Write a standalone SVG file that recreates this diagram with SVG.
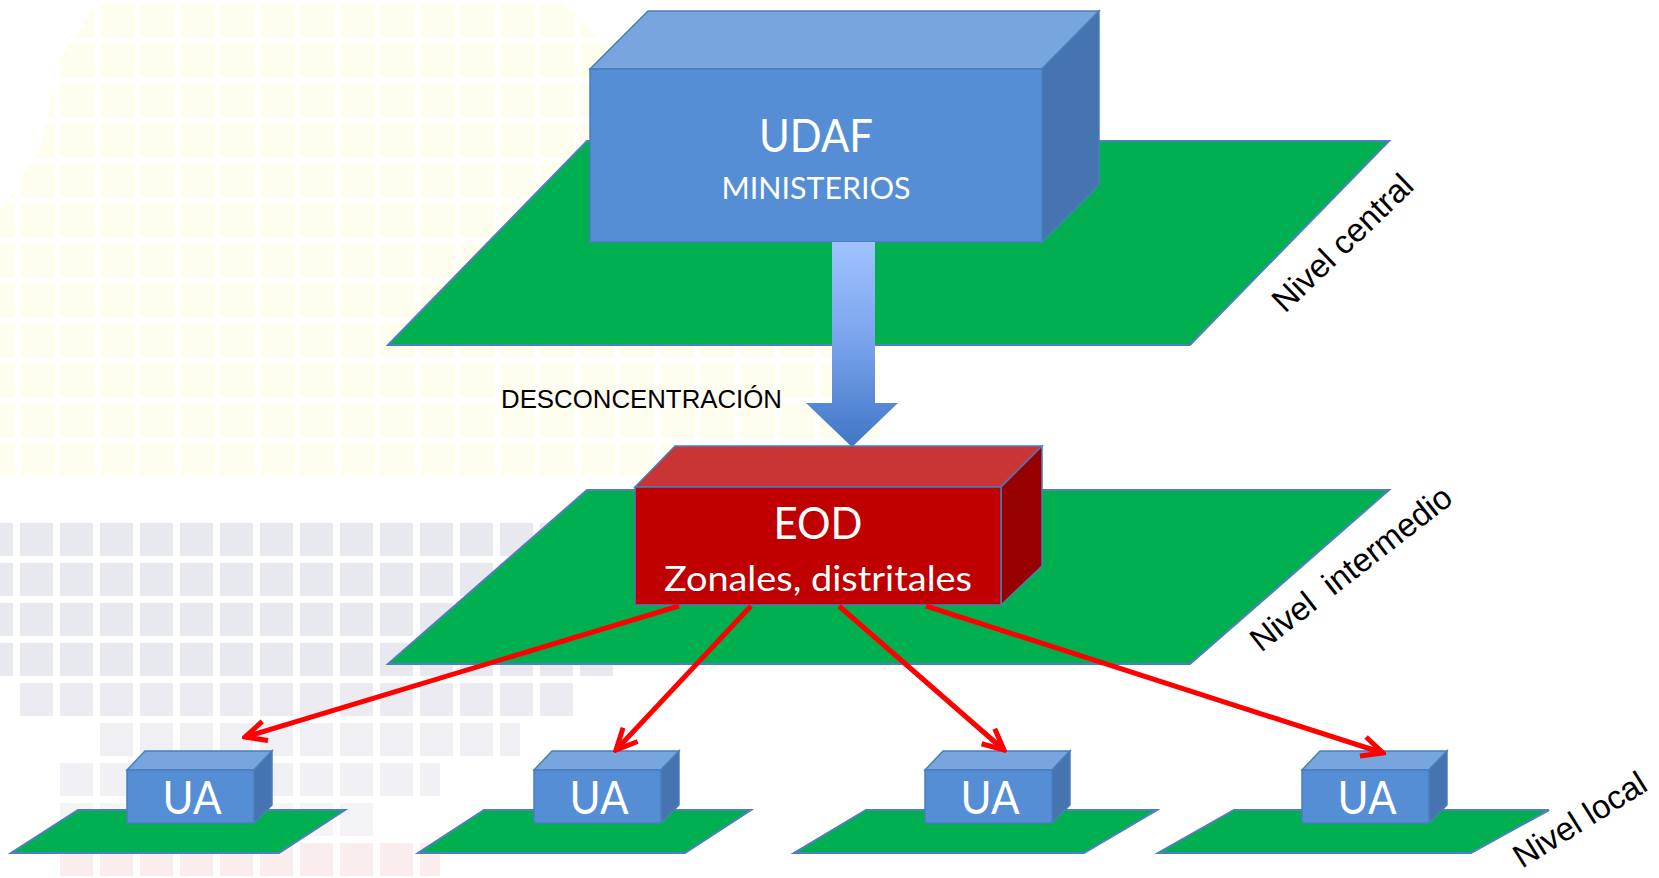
<svg xmlns="http://www.w3.org/2000/svg" width="1659" height="878" viewBox="0 0 1659 878">
  <style>
    .plane { fill: #00B050; stroke: #4F7FC0; stroke-width: 2; stroke-linejoin: miter; }
    .bfront { fill: #558ED5; stroke: #4A7EBB; stroke-width: 1.5; }
    .btop { fill: #77A5DD; stroke: #4A7EBB; stroke-width: 1.5; }
    .bside { fill: #4674B0; stroke: #4A7EBB; stroke-width: 1.5; }
    .rfront { fill: #C00000; stroke: #4A7EBB; stroke-width: 1.5; }
    .rtop { fill: #C93434; stroke: #4A7EBB; stroke-width: 1.5; }
    .rside { fill: #960000; stroke: #4A7EBB; stroke-width: 1.5; }
    .wt { fill: #FFFFFF; font-family: Lato, "Open Sans", sans-serif; text-anchor: middle; }
    .lvl { fill: #000000; font-family: "Liberation Sans", Arial, sans-serif; font-size: 33px; white-space: pre; }
    .red { stroke: #FF0000; stroke-width: 5; fill: none; marker-end: url(#redhead); }
  </style>
  <defs>
    <marker id="redhead" markerUnits="userSpaceOnUse" markerWidth="28" markerHeight="28" viewBox="0 0 28 28" refX="25" refY="14" orient="auto">
      <path d="M4,4 L25,14 L4,24" fill="none" stroke="#FF0000" stroke-width="5" stroke-linejoin="miter"/>
    </marker>
    <linearGradient id="blueArrow" x1="0" y1="242" x2="0" y2="447" gradientUnits="userSpaceOnUse">
      <stop offset="0" stop-color="#A0C3FF"/>
      <stop offset="0.5" stop-color="#78A2EC"/>
      <stop offset="1" stop-color="#3F76C6"/>
    </linearGradient>
    <pattern id="ygrid" x="20" y="3" width="40" height="40" patternUnits="userSpaceOnUse">
      <rect x="0" y="0" width="35" height="35" fill="#FFFDEE"/>
    </pattern>
    <pattern id="ggrid" x="20" y="523" width="40" height="40" patternUnits="userSpaceOnUse">
      <rect x="0" y="0" width="33" height="33" fill="#E8E8EF"/>
    </pattern>
    <pattern id="pgrid" x="20" y="523" width="40" height="40" patternUnits="userSpaceOnUse">
      <rect x="0" y="0" width="33" height="33" fill="#FAEDED"/>
    </pattern>
  </defs>

  <g id="background">
    <rect x="0" y="0" width="1659" height="878" fill="#FFFFFF"/>
    <polygon points="100,0 560,0 600,40 880,60 880,475 0,475 0,210 40,150 60,60" fill="url(#ygrid)"/>
    <rect x="0" y="523" width="620" height="160" fill="url(#ggrid)"/>
    <rect x="20" y="683" width="560" height="40" fill="url(#ggrid)" opacity="0.85"/>
    <rect x="100" y="723" width="420" height="40" fill="url(#ggrid)" opacity="0.7"/>
    <rect x="60" y="763" width="380" height="40" fill="url(#ggrid)" opacity="0.6"/>
    <rect x="60" y="803" width="320" height="40" fill="url(#ggrid)" opacity="0.5"/>
    <rect x="60" y="843" width="380" height="35" fill="url(#pgrid)"/>
  </g>

  <g id="plane-central">
    <polygon class="plane" points="587,141 1389,141 1190,345 388,345"/>
  </g>

  <g id="node-udaf">
    <polygon class="btop" points="590,69 648,11 1099,11 1042,69"/>
    <polygon class="bside" points="1042,69 1099,11 1099,185 1042,242"/>
    <rect class="bfront" x="590" y="69" width="452" height="173"/>
    <text class="wt" x="816" y="152" font-size="46" textLength="114" lengthAdjust="spacingAndGlyphs">UDAF</text>
    <text class="wt" x="816" y="199" font-size="30" textLength="189" lengthAdjust="spacingAndGlyphs">MINISTERIOS</text>
  </g>

  <g id="plane-intermedio">
    <polygon class="plane" points="587,490 1389,490 1190,664 388,664"/>
  </g>

  <g id="node-eod">
    <polygon class="rtop" points="635,487 675,446 1042,446 1001,487"/>
    <polygon class="rside" points="1001,487 1042,446 1042,566 1001,605"/>
    <rect class="rfront" x="635" y="487" width="366" height="118"/>
    <text class="wt" x="818" y="539" font-size="45" textLength="89" lengthAdjust="spacingAndGlyphs">EOD</text>
    <text class="wt" x="818" y="591" font-size="35" textLength="308" lengthAdjust="spacingAndGlyphs">Zonales, distritales</text>
  </g>

  <g id="plane-local-1"><polygon class="plane" points="78,810 345,810 279,853 11,853"/></g>
  <g id="plane-local-2"><polygon class="plane" points="484,810 751,810 685,853 418,853"/></g>
  <g id="plane-local-3"><polygon class="plane" points="866,810 1157,810 1084,853 794,853"/></g>
  <g id="plane-local-4"><polygon class="plane" points="1234,810 1549,810 1471,853 1158,853"/></g>

  <g id="node-ua1">
    <polygon class="btop" points="127,770 145,751 272,751 254,770"/>
    <polygon class="bside" points="254,770 272,751 272,805 254,823"/>
    <rect class="bfront" x="127" y="770" width="127" height="53"/>
    <text class="wt" x="192" y="814" font-size="46" textLength="59" lengthAdjust="spacingAndGlyphs">UA</text>
  </g>
  <g id="node-ua2">
    <polygon class="btop" points="534,770 552,751 679,751 661,770"/>
    <polygon class="bside" points="661,770 679,751 679,805 661,823"/>
    <rect class="bfront" x="534" y="770" width="127" height="53"/>
    <text class="wt" x="599" y="814" font-size="46" textLength="59" lengthAdjust="spacingAndGlyphs">UA</text>
  </g>
  <g id="node-ua3">
    <polygon class="btop" points="925,770 943,751 1070,751 1052,770"/>
    <polygon class="bside" points="1052,770 1070,751 1070,805 1052,823"/>
    <rect class="bfront" x="925" y="770" width="127" height="53"/>
    <text class="wt" x="990" y="814" font-size="46" textLength="59" lengthAdjust="spacingAndGlyphs">UA</text>
  </g>
  <g id="node-ua4">
    <polygon class="btop" points="1302,770 1320,751 1447,751 1429,770"/>
    <polygon class="bside" points="1429,770 1447,751 1447,805 1429,823"/>
    <rect class="bfront" x="1302" y="770" width="127" height="53"/>
    <text class="wt" x="1367" y="814" font-size="46" textLength="59" lengthAdjust="spacingAndGlyphs">UA</text>
  </g>

  <g id="connectors">
    <path id="arrow-desconcentracion" d="M832,242 H875 V403 H898 L852,447 L806,403 H832 Z" fill="url(#blueArrow)"/>
    <line class="red" x1="679" y1="606" x2="245" y2="737"/>
    <line class="red" x1="751" y1="606" x2="616" y2="750"/>
    <line class="red" x1="839" y1="606" x2="1004" y2="750"/>
    <line class="red" x1="926" y1="606" x2="1383" y2="753"/>
  </g>

  <g id="labels">
    <text x="501" y="408" font-family="Liberation Sans, Arial, sans-serif" font-size="26" fill="#000000" textLength="281" lengthAdjust="spacingAndGlyphs">DESCONCENTRACIÓN</text>
    <text class="lvl" transform="translate(1285,314) rotate(-44)">Nivel central</text>
    <text class="lvl" transform="translate(1261,653) rotate(-38)">Nivel  intermedio</text>
    <text class="lvl" transform="translate(1522,869) rotate(-32)" font-size="32">Nivel local</text>
  </g>
</svg>
